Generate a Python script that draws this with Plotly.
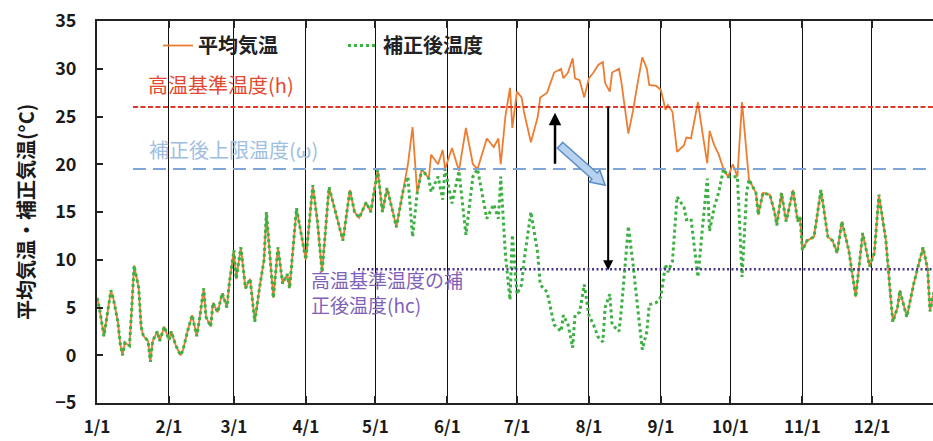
import plotly.graph_objects as go

# ---------------- data ----------------
month_days = [0, 31, 59, 90, 120, 151, 181, 212, 243, 273, 304, 334]
month_labels = ["1/1", "2/1", "3/1", "4/1", "5/1", "6/1", "7/1", "8/1", "9/1", "10/1", "11/1", "12/1"]

days = [0, 1, 3, 4, 6, 7, 9, 10, 11, 12, 14, 15, 16, 18, 19, 20, 22, 23, 24, 26,
        27, 29, 31, 32, 34, 36, 37, 39, 41, 43, 44, 46, 47, 49, 50, 52, 54, 56, 57, 59,
        60, 62, 64, 66, 68, 70, 72, 73, 76, 78, 80, 82, 83, 86, 90, 93, 95, 97, 100, 103,
        106, 109, 111, 113, 116, 118, 121, 123, 125, 128, 129, 132, 134, 136, 138, 140, 143, 144, 147, 149,
        150, 153, 156, 159, 162, 164, 168, 171, 173, 174, 176, 178, 179, 181, 183, 184, 187, 190, 191, 194,
        197, 200, 201, 203, 205, 206, 208, 210, 212, 214, 216, 218, 219, 221, 222, 225, 226, 229, 231, 233,
        235, 237, 238, 241, 243, 245, 246, 248, 250, 253, 254, 256, 259, 261, 263, 264, 266, 268, 270, 272,
        274, 276, 278, 280, 281, 284, 285, 287, 290, 292, 293, 295, 297, 300, 302, 303, 304, 306, 309, 312,
        315, 317, 319, 321, 324, 327, 330, 333, 335, 337, 340, 342, 343, 345, 346, 349, 352, 356, 358, 359,
        361]

avg_temp = [6, 5, 2, 3.5, 6.8, 6, 3.5, 1.2, 0, 1.3, 1, 5, 9.4, 7, 3, 2, 1.5, -0.7, 1.5, 2.5,
            1.5, 3, 1.6, 2.5, 1, 0, 0.5, 2.5, 4.2, 2, 3.5, 7, 4, 3, 5.5, 4.5, 6.5, 5, 7.5, 11,
            8, 11.3, 7, 8, 3.5, 7, 10, 15, 6, 11.3, 7.5, 8.5, 7, 15.4, 10, 17.8, 14, 8.7, 17.6, 14.8,
            12, 17.3, 15, 14.4, 16, 15, 19.4, 15, 17.5, 14.5, 13.4, 17.3, 20, 23.9, 17, 19.5, 18.5, 21, 20, 21.5,
            19.5, 21.7, 19.3, 23.8, 20, 19.5, 22.7, 21.8, 22.7, 20, 25, 28, 23.8, 27.6, 27, 25.5, 22.3, 25, 27, 27.5,
            29.6, 30, 29, 29.6, 31.1, 29, 28.8, 27, 29, 29.6, 30.4, 30.7, 28.5, 27.6, 29.6, 30, 28.6, 23.2, 25.6, 28.5,
            31.2, 30, 28.3, 28.2, 27.8, 25.7, 26.2, 25.5, 21.3, 22, 22.8, 22.7, 26.5, 23.2, 20.1, 23.5, 22, 21, 19.5, 18.7,
            20, 18.7, 26.5, 21, 18.4, 17, 14.7, 17, 16.8, 15, 13.6, 17, 14, 17.3, 14, 14.5, 11, 12, 12.4, 17.3,
            12.4, 12, 10.7, 14, 11, 6.1, 12.8, 9.3, 10.7, 16.8, 12, 6, 3.5, 5, 6.8, 4, 7.5, 11.3, 9, 4.6,
            7]

corrected_temp = [6, 5, 2, 3.5, 6.8, 6, 3.5, 1.2, 0, 1.3, 1, 5, 9.4, 7, 3, 2, 1.5, -0.7, 1.5, 2.5,
                  1.5, 3, 1.6, 2.5, 1, 0, 0.5, 2.5, 4.2, 2, 3.5, 7, 4, 3, 5.5, 4.5, 6.5, 5, 7.5, 11,
                  8, 11.3, 7, 8, 3.5, 7, 10, 15, 6, 11.3, 7.5, 8.5, 7, 15.4, 10, 17.8, 14, 8.7, 17.6, 14.8,
                  12, 17.3, 15, 14.4, 16, 15, 19.4, 15, 17.5, 14.5, 13.4, 17.3, 18.7, 12.4, 17, 19.5, 18.5, 17.1, 18.7, 16.3,
                  19.5, 15.9, 19.3, 12.6, 18.7, 19.5, 14.3, 15.8, 14.3, 18.7, 10.6, 5.8, 12.6, 6.4, 7.4, 9.8, 15.0, 10.6, 7.4, 6.6,
                  3.2, 2.5, 4.2, 3.2, 0.8, 4.2, 4.5, 7.4, 4.2, 3.2, 1.9, 1.4, 5.0, 6.4, 3.2, 2.5, 4.8, 13.5, 9.6, 5.0,
                  0.6, 2.5, 5.3, 5.5, 6.1, 9.5, 8.7, 9.8, 16.6, 15.5, 14.2, 14.3, 8.2, 13.5, 18.5, 13.0, 15.5, 17.1, 19.5, 18.7,
                  18.7, 18.7, 8.2, 17.1, 18.4, 17, 14.7, 17, 16.8, 15, 13.6, 17, 14, 17.3, 14, 14.5, 11, 12, 12.4, 17.3,
                  12.4, 12, 10.7, 14, 11, 6.1, 12.8, 9.3, 10.7, 16.8, 12, 6, 3.5, 5, 6.8, 4, 7.5, 11.3, 9, 4.6,
                  7]

h_temp = 26.0       # 高温基準温度(h)
omega_temp = 19.5   # 補正後上限温度(ω)
hc_temp = 9.0       # 高温基準温度の補正後温度(hc)

# ---------------- figure ----------------
FONT = "Noto Sans CJK JP"
fig = go.Figure()

fig.add_trace(go.Scatter(x=days, y=avg_temp, mode="lines", name="平均気温",
                         line=dict(color="#ED7D31", width=1.8)))
fig.add_trace(go.Scatter(x=days, y=corrected_temp, mode="lines", name="補正後温度",
                         line=dict(color="#3CB043", width=3, dash="dot")))

X0, W, Y0, H = 97.0, 836.0, 403.0, 382.0


def px_rect(x0, x1, y0, y1):
    return dict(type="rect", xref="paper", yref="paper", layer="between",
                x0=(x0 - X0) / W, x1=(x1 - X0) / W,
                y0=(Y0 - y1) / H, y1=(Y0 - y0) / H,
                fillcolor="white", line=dict(width=0))


shapes = [
    px_rect(100, 515, 28, 68),
    px_rect(100, 350, 68, 105),
    px_rect(100, 400, 125, 168),
    px_rect(300, 505, 272, 367),
    dict(type="line", xref="x", yref="y", x0=15.5, x1=365, y0=h_temp, y1=h_temp, layer="above",
         line=dict(color="#E0392A", width=2, dash="5px,2.5px")),
    dict(type="line", xref="x", yref="y", x0=15.5, x1=365, y0=omega_temp, y1=omega_temp, layer="above",
         line=dict(color="#7FA7D6", width=2, dash="13px,7px")),
    dict(type="line", xref="x", yref="y", x0=112.5, x1=365, y0=hc_temp, y1=hc_temp, layer="above",
         line=dict(color="#4B3590", width=2.5, dash="2px,2.5px")),
]

# block arrow (decoration)
arrow_pts = [(198.4, 21.68), (200.7, 22.30), (215.6, 19.09), (216.7, 19.40),
             (219.0, 17.80), (212.2, 18.15), (213.3, 18.46)]
path = "M " + " L ".join(f"{x},{y}" for x, y in arrow_pts) + " Z"
shapes.append(dict(type="path", xref="x", yref="y", path=path, layer="above",
                   fillcolor="#B6D2EE", line=dict(color="#5B8CC6", width=1.5)))

annotations = [
    dict(text="高温基準温度(h)", x=21, y=28.4, xref="x", yref="y", xanchor="left", yanchor="middle",
         showarrow=False, font=dict(family=FONT, size=20, color="#E4492F")),
    dict(text="補正後上限温度(ω)", x=21.4, y=21.5, xref="x", yref="y", xanchor="left", yanchor="middle",
         showarrow=False, font=dict(family=FONT, size=20, color="#9EBEE0")),
    dict(text="高温基準温度の補<br>正後温度(hc)", x=91.5, y=6.6, xref="x", yref="y", xanchor="left",
         yanchor="middle", align="left", showarrow=False,
         font=dict(family=FONT, size=19, color="#7F62B8")),
    dict(text="平均気温・補正気温(°C)", x=(25 - X0) / W, y=0.5, xref="paper", yref="paper",
         xanchor="center", yanchor="middle", textangle=-90, showarrow=False,
         font=dict(family=FONT, size=20, color="#1a1a1a", weight="bold")),
    # up arrow (omega -> h)
    dict(text="", x=197.4, y=25.4, ax=197.4, ay=19.9, xref="x", yref="y", axref="x", ayref="y",
         showarrow=True, arrowhead=2, arrowsize=1, arrowwidth=2.5, arrowcolor="#000"),
    # down arrow (h -> hc)
    dict(text="", x=220.3, y=8.9, ax=220.3, ay=26.2, xref="x", yref="y", axref="x", ayref="y",
         showarrow=True, arrowhead=2, arrowsize=1, arrowwidth=2, arrowcolor="#000"),
]

fig.update_layout(
    width=933, height=441,
    margin=dict(l=97, r=0, t=21, b=38, autoexpand=False),
    paper_bgcolor="white", plot_bgcolor="white",
    font=dict(family=FONT, color="#1a1a1a"),
    showlegend=True,
    legend=dict(orientation="h", x=(158 - X0) / W, y=(Y0 - 26) / H, xanchor="left", yanchor="top",
                bgcolor="rgba(0,0,0,0)", borderwidth=0,
                font=dict(family=FONT, size=20, color="#222", weight="bold"),
                entrywidth=140, entrywidthmode="pixels"),
    xaxis=dict(range=[0, 360.3], tickvals=month_days, ticktext=month_labels,
               showgrid=True, gridcolor="#111", gridwidth=1,
               showline=True, linecolor="#222", linewidth=2, mirror="ticks",
               ticks="inside", ticklen=7, tickcolor="#222", tickwidth=1.5,
               tickfont=dict(family=FONT, size=17, weight="bold", color="#1a1a1a"),
               ticklabelstandoff=8, zeroline=False, automargin=False),
    yaxis=dict(range=[-5, 35], dtick=5, tick0=0, showgrid=False,
               showline=True, linecolor="#222", linewidth=2,
               ticks="inside", ticklen=6, tickcolor="#222", tickwidth=1.5,
               tickfont=dict(family=FONT, size=18, weight="bold", color="#1a1a1a"),
               ticklabelstandoff=15, zeroline=False, automargin=False),
    shapes=shapes,
    annotations=annotations,
)

fig.write_html(
    "out.html",
    config={"displayModeBar": False},
    post_script="document.body.style.margin='0';document.body.style.padding='0';"
                "document.body.style.overflow='hidden';",
)
